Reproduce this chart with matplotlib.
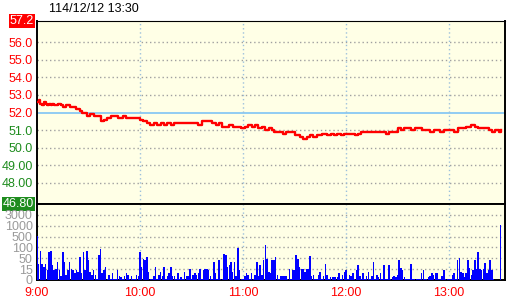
import numpy as np
import matplotlib
matplotlib.use("Agg")
import matplotlib.pyplot as plt
from matplotlib.transforms import blended_transform_factory

plt.rcParams['font.family'] = ['Liberation Sans', 'DejaVu Sans']

title = "114/12/12 13:30"
ref_price = 52.0
limit_up = 57.2
limit_down = 46.8

# minutes after 9:00 where the price changed, and the price from there on
price_t = [0, 1, 2, 3, 4, 5, 6, 7, 8, 9, 10, 12, 14, 15, 17, 19, 21, 23, 25, 26,
           28, 29, 31, 33, 35, 37, 39, 41, 43, 47, 50, 52, 55, 58, 60, 62, 64, 66,
           68, 70, 72, 74, 76, 78, 80, 84, 88, 90, 92, 94, 96, 100, 102, 104, 106,
           108, 110, 112, 114, 117, 119, 121, 123, 125, 127, 129, 131, 133, 135,
           137, 138, 141, 143, 145, 147, 150, 153, 155, 157, 159, 161, 163, 166,
           169, 171, 173, 175, 177, 179, 183, 185, 187, 189, 195, 199, 203, 205,
           208, 210, 212, 214, 216, 218, 220, 224, 227, 229, 231, 235, 237, 241,
           243, 245, 248, 250, 253, 255, 257, 261, 263, 265, 267, 269, 270]
price_v = [52.6, 52.7, 52.5, 52.4, 52.6, 52.5, 52.4, 52.5, 52.4, 52.5, 52.4, 52.5,
           52.4, 52.3, 52.4, 52.3, 52.3, 52.2, 52.1, 52.0, 52.0, 51.8, 51.9, 51.8,
           51.8, 51.5, 51.6, 51.7, 51.8, 51.7, 51.8, 51.7, 51.7, 51.7, 51.6, 51.5,
           51.4, 51.3, 51.4, 51.3, 51.4, 51.3, 51.4, 51.3, 51.4, 51.4, 51.4, 51.4,
           51.4, 51.3, 51.5, 51.5, 51.4, 51.3, 51.4, 51.2, 51.2, 51.3, 51.2, 51.2,
           51.1, 51.2, 51.3, 51.2, 51.3, 51.1, 51.2, 51.0, 51.1, 51.0, 50.9, 50.9,
           50.8, 50.9, 50.9, 50.7, 50.6, 50.5, 50.6, 50.7, 50.6, 50.7, 50.8, 50.7,
           50.8, 50.7, 50.8, 50.7, 50.8, 50.8, 50.7, 50.8, 50.9, 50.9, 50.9, 50.8,
           50.9, 50.9, 51.1, 51.0, 51.1, 51.1, 51.0, 51.1, 51.0, 51.0, 50.9, 51.0,
           50.9, 51.0, 51.0, 50.9, 51.1, 51.1, 51.2, 51.3, 51.2, 51.1, 51.1, 51.0,
           50.9, 51.0, 50.9, 51.0]

# volume per minute, 9:00 .. 13:30
volume = [520, 31, 85, 31, 22, 31, 14, 80, 85, 28,
          14, 17, 38, 14, 5, 80, 38, 7, 14, 38,
          17, 14, 9, 14, 11, 55, 9, 80, 14, 85,
          43, 11, 7, 14, 7, 2, 64, 95, 9, 14,
          22, 2, 7, 1, 9, 2, 2, 14, 5, 4,
          1, 5, 9, 7, 2, 5, 2, 1, 7, 5,
          80, 22, 49, 43, 55, 11, 2, 2, 5, 22,
          2, 7, 11, 5, 22, 2, 5, 9, 22, 5,
          5, 2, 9, 2, 4, 2, 11, 5, 5, 17,
          2, 7, 9, 7, 9, 17, 2, 14, 17, 17,
          14, 5, 2, 38, 9, 2, 43, 2, 2, 70,
          64, 22, 28, 38, 11, 38, 5, 99, 14, 2,
          2, 5, 9, 7, 2, 9, 2, 7, 38, 5,
          28, 7, 43, 180, 49, 11, 9, 43, 43, 55,
          7, 2, 5, 5, 5, 5, 2, 17, 2, 14,
          14, 64, 49, 22, 17, 17, 11, 17, 17, 60,
          5, 7, 2, 2, 7, 11, 2, 5, 30, 7,
          1, 4, 4, 4, 4, 4, 9, 2, 7, 11,
          14, 2, 7, 5, 9, 2, 14, 28, 5, 2,
          9, 2, 5, 11, 2, 5, 38, 2, 7, 4,
          9, 2, 28, 2, 2, 28, 2, 4, 5, 4,
          7, 43, 20, 14, 4, 2, 2, 2, 31, 2,
          1, 1, 1, 2, 9, 14, 2, 1, 4, 5,
          9, 7, 9, 9, 1, 2, 5, 14, 1, 1,
          2, 1, 7, 9, 2, 43, 52, 11, 9, 4,
          9, 45, 20, 7, 14, 45, 17, 80, 17, 14,
          15, 35, 9, 14, 45, 14, 1, 0, 0, 0,
          1200]

price_ticks = [56.0, 55.0, 54.0, 53.0, 52.0, 51.0, 50.0, 49.0, 48.0]
price_labels = ["56.0", "55.0", "54.0", "53.0", "52.0", "51.0", "50.0", "49.00", "48.00"]
vol_levels = [0, 15, 50, 100, 500, 1000, 3000, 5000]
vol_ticks = [0, 15, 50, 100, 500, 1000, 3000]
vol_labels = ["0", "15", "50", "100", "500", "1000", "3000"]
time_ticks = [0, 60, 120, 180, 240]
time_labels = ["9:00", "10:00", "11:00", "12:00", "13:00"]

up_col = "#ff0000"
down_col = "#1e8c1e"
bg = "#ffffe6"
grid_col = "#a0a0a0"
vgrid_col = "#9cc0dc"

fig = plt.figure(figsize=(5.2, 3.0), dpi=100)
ax = fig.add_axes([37 / 520, 1 - 204 / 300, 468 / 520, 183 / 300])
axv = fig.add_axes([37 / 520, 1 - 280 / 300, 468 / 520, 76 / 300], sharex=ax)

x_end = 272.6

# price panel
ax.set_facecolor(bg)
ax.set_xlim(0, x_end)
ax.set_ylim(limit_down, limit_up)
for p in price_ticks:
    if p == ref_price:
        ax.axhline(p, color="#88c8f4", lw=1.3, zorder=1)
    else:
        ax.axhline(p, color=grid_col, lw=1, ls=(0, (1, 2)), zorder=1)
for t in time_ticks[1:]:
    ax.axvline(t, color=vgrid_col, lw=1, ls=(0, (1, 2)), zorder=1)

pt = list(price_t) + [price_t[-1] + 0.5]
pv = list(price_v) + [price_v[-1]]
ax.step(pt, pv, where="post", color=up_col, lw=1.7, zorder=3)

ax.set_yticks(price_ticks)
ax.set_yticklabels(price_labels)
for lab, p in zip(ax.get_yticklabels(), price_ticks):
    lab.set_color(up_col if p >= ref_price else down_col)
ax.tick_params(axis="y", length=0, pad=3, labelsize=9)
ax.tick_params(axis="x", length=0, labelbottom=False)

tr = blended_transform_factory(ax.transAxes, ax.transData)
ax.text(-0.006, limit_up, "57.2", transform=tr, ha="right", va="center",
        color="white", fontsize=9,
        bbox=dict(facecolor=up_col, edgecolor="none", pad=0.6))
ax.text(-0.006, limit_down, "46.80", transform=tr, ha="right", va="center",
        color="white", fontsize=9,
        bbox=dict(facecolor=down_col, edgecolor="none", pad=0.6))

for side in ["left", "right", "top", "bottom"]:
    ax.spines[side].set_color("black")
ax.spines["top"].set_linewidth(0.8)
ax.spines["left"].set_linewidth(1.4)
ax.spines["right"].set_linewidth(1.4)
ax.spines["bottom"].set_linewidth(1.4)

# volume panel
def fwd(v):
    return np.interp(v, vol_levels, np.arange(len(vol_levels)))

def inv(i):
    return np.interp(i, np.arange(len(vol_levels)), vol_levels)

axv.set_facecolor(bg)
axv.set_yscale("function", functions=(fwd, inv))
axv.set_ylim(0, vol_levels[-1])
for v in vol_ticks[1:]:
    axv.axhline(v, color=grid_col, lw=1, ls=(0, (1, 2)), zorder=1)
for t in time_ticks[1:]:
    axv.axvline(t, color=vgrid_col, lw=1, ls=(0, (1, 2)), zorder=1)

minutes = np.arange(len(volume))
axv.bar(minutes, volume, width=0.9, color="#0000ff", linewidth=0, zorder=3)

axv.set_yticks(vol_ticks)
axv.set_yticklabels(vol_labels)
axv.tick_params(axis="y", length=0, pad=3, labelsize=9, labelcolor="#9a9a9a")
axv.set_xticks(time_ticks)
axv.set_xticklabels(time_labels)
axv.tick_params(axis="x", length=0, pad=5, labelsize=9, labelcolor=up_col)
axv.minorticks_off()
axv.set_xlim(0, x_end)

for side in ["left", "right", "bottom"]:
    axv.spines[side].set_color("black")
    axv.spines[side].set_linewidth(1.4)
axv.spines["top"].set_linewidth(1.4)

fig.text(49 / 520, 1 - 3 / 300, title, ha="left", va="top", fontsize=9, color="black")

fig.savefig("out.png", dpi=100, facecolor="white")
